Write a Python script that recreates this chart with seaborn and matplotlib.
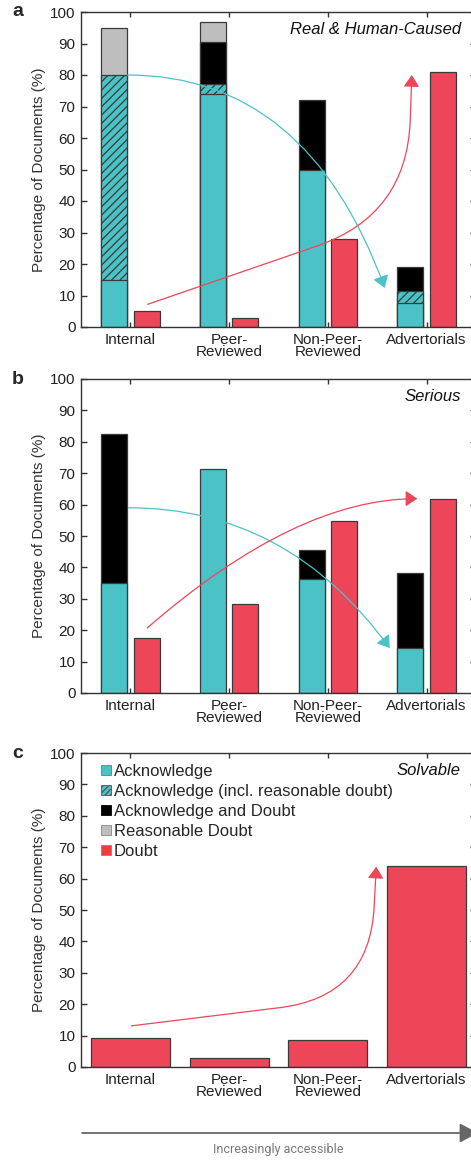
import numpy as np
import pandas as pd
import matplotlib
matplotlib.use("Agg")
import matplotlib.pyplot as plt
import matplotlib.patches as mpatches
import seaborn as sns

# categories on the x axis
sources = ["Internal", "Peer-\nReviewed", "Non-Peer-\nReviewed", "Advertorials"]

# a) Real & Human-Caused -- segment heights (%)
a_ack = [15.0, 74.0, 50.0, 7.7]
a_ack_reasonable = [65.0, 3.3, 0.0, 3.6]
a_ack_doubt = [0.0, 13.2, 22.2, 7.9]
a_reasonable_doubt = [15.0, 6.3, 0.0, 0.0]
a_doubt = [5.0, 3.0, 27.8, 80.8]

# b) Serious
b_ack = [35.1, 71.4, 36.3, 14.2]
b_ack_doubt = [47.3, 0.0, 9.2, 23.9]
b_doubt = [17.6, 28.5, 54.7, 61.9]

# c) Solvable
c_doubt = [9.3, 2.8, 8.5, 64.0]

TEAL = "#4AC2C6"
RED = "#EE4659"
GRAY = "#BEBEBE"
BLACK = "#000000"
EDGE = "#3a3a3a"

sns.set_style("ticks")
plt.rcParams["font.family"] = ["Liberation Sans", "DejaVu Sans"]
plt.rcParams["hatch.linewidth"] = 0.9

fig = plt.figure(figsize=(4.71, 11.61), dpi=100)
W, H = 471, 1161


def add_ax(top_px, bottom_px):
    return fig.add_axes([81 / W, 1 - bottom_px / H, 395 / W, (bottom_px - top_px) / H])


def draw_stack(ax, layers, doubt):
    # layers: list of (segment values, colour, hatch), bottom first
    tops = np.cumsum([np.array(v) for v, _, _ in layers], axis=0)
    for i in reversed(range(len(layers))):
        vals, col, hatch = layers[i]
        df = pd.DataFrame({"source": sources, "side": "ack", "top": tops[i]})
        df = df[np.array(vals) > 0]
        sns.barplot(data=df, x="source", y="top", hue="side", hue_order=["ack", "doubt"],
                    order=sources, palette={"ack": col, "doubt": RED}, width=0.66, gap=0.2,
                    dodge=True, saturation=1, edgecolor=EDGE, linewidth=0.9, hatch=hatch,
                    errorbar=None, legend=False, ax=ax)
    dd = pd.DataFrame({"source": sources, "side": "doubt", "top": doubt})
    sns.barplot(data=dd, x="source", y="top", hue="side", hue_order=["ack", "doubt"],
                order=sources, palette={"ack": TEAL, "doubt": RED}, width=0.66, gap=0.2,
                dodge=True, saturation=1, edgecolor=EDGE, linewidth=0.9, errorbar=None,
                legend=False, ax=ax)


def style_ax(ax, letter, title):
    ax.set_ylim(0, 100)
    ax.set_xlim(-0.5, 3.5)
    ax.set_yticks(range(0, 101, 10))
    ax.set_xlabel("")
    ax.set_ylabel("Percentage of Documents (%)", fontsize=11, color="#333333", labelpad=3)
    ax.tick_params(axis="y", direction="in", length=4.5, width=1, left=True, right=True,
                   labelsize=11, pad=4, color="#333333", labelcolor="#222222")
    ax.tick_params(axis="x", direction="in", length=3.5, width=1, top=True, bottom=True,
                   labelsize=11, pad=4, color="#333333", labelcolor="#222222")
    for lab in ax.get_xticklabels():
        lab.set_linespacing(0.85)
    for sp in ax.spines.values():
        sp.set_color("#333333")
        sp.set_linewidth(1.0)
    ax.text(0.962, 0.945, title, transform=ax.transAxes, ha="right", va="center",
            fontsize=12, style="italic", color="#111111")
    ax.text(-0.16, 1.0, letter, transform=ax.transAxes, ha="center", va="center",
            fontsize=14, fontweight="bold")


def arrow(ax, start, end, color, conn):
    ax.annotate("", xy=end, xytext=start,
                arrowprops=dict(arrowstyle="-|>,head_length=0.6,head_width=0.4",
                                mutation_scale=12, color=color, lw=0.9,
                                shrinkA=0, shrinkB=0, connectionstyle=conn))


# panel a
ax_a = add_ax(12, 327)
draw_stack(ax_a, [(a_ack, TEAL, None), (a_ack_reasonable, TEAL, "////"),
                  (a_ack_doubt, BLACK, None), (a_reasonable_doubt, GRAY, None)], a_doubt)
style_ax(ax_a, "a", "Real & Human-Caused")
arrow(ax_a, (-0.03, 80), (2.576, 12.4), TEAL, "angle3,angleA=0,angleB=-70")
arrow(ax_a, (0.175, 7.2), (2.85, 80), RED, "angle,angleA=19,angleB=88,rad=95")

# panel b
ax_b = add_ax(379, 693)
draw_stack(ax_b, [(b_ack, TEAL, None), (b_ack_doubt, BLACK, None)], b_doubt)
style_ax(ax_b, "b", "Serious")
arrow(ax_b, (-0.02, 59), (2.626, 14.3), TEAL, "angle3,angleA=0,angleB=-54")
arrow(ax_b, (0.17, 20.7), (2.906, 61.9), RED, "angle3,angleA=41,angleB=0")

# panel c
ax_c = add_ax(753, 1067)
sns.barplot(x=sources, y=c_doubt, color=RED, width=0.8, saturation=1, edgecolor=EDGE,
            linewidth=0.9, errorbar=None, ax=ax_c)
style_ax(ax_c, "c", "Solvable")
arrow(ax_c, (0.01, 13.1), (2.49, 63.8), RED, "angle,angleA=7,angleB=87,rad=90")

handles = [
    mpatches.Patch(facecolor=TEAL, edgecolor="#777777", linewidth=0.6, label="Acknowledge"),
    mpatches.Patch(facecolor=TEAL, edgecolor="#555555", linewidth=0.6, hatch="//////",
                   label="Acknowledge (incl. reasonable doubt)"),
    mpatches.Patch(facecolor=BLACK, edgecolor=BLACK, linewidth=0.6, label="Acknowledge and Doubt"),
    mpatches.Patch(facecolor=GRAY, edgecolor="#888888", linewidth=0.6, label="Reasonable Doubt"),
    mpatches.Patch(facecolor="#F23B3B", edgecolor="#888888", linewidth=0.6, label="Doubt"),
]
ax_c.legend(handles=handles, loc="upper left", bbox_to_anchor=(0.05, 0.966), frameon=False,
            fontsize=12, borderaxespad=0, borderpad=0, handlelength=0.6, handleheight=0.6,
            handletextpad=0.2, labelspacing=0.3)

# bottom "increasingly accessible" arrow
ax_c.annotate("", xy=(478 / W, 28 / H), xytext=(82 / W, 28 / H), xycoords="figure fraction",
              textcoords="figure fraction", annotation_clip=False,
              arrowprops=dict(arrowstyle="-|>,head_length=0.8,head_width=0.42",
                              mutation_scale=14, color="#666666", lw=1.3,
                              shrinkA=0, shrinkB=0))
fig.text(278 / W, 1 - 1150 / H, "Increasingly accessible", ha="center", va="center",
         fontsize=9, color="#777777", family=["Liberation Sans Narrow", "Roboto"])

fig.savefig("out.png", dpi=100)
